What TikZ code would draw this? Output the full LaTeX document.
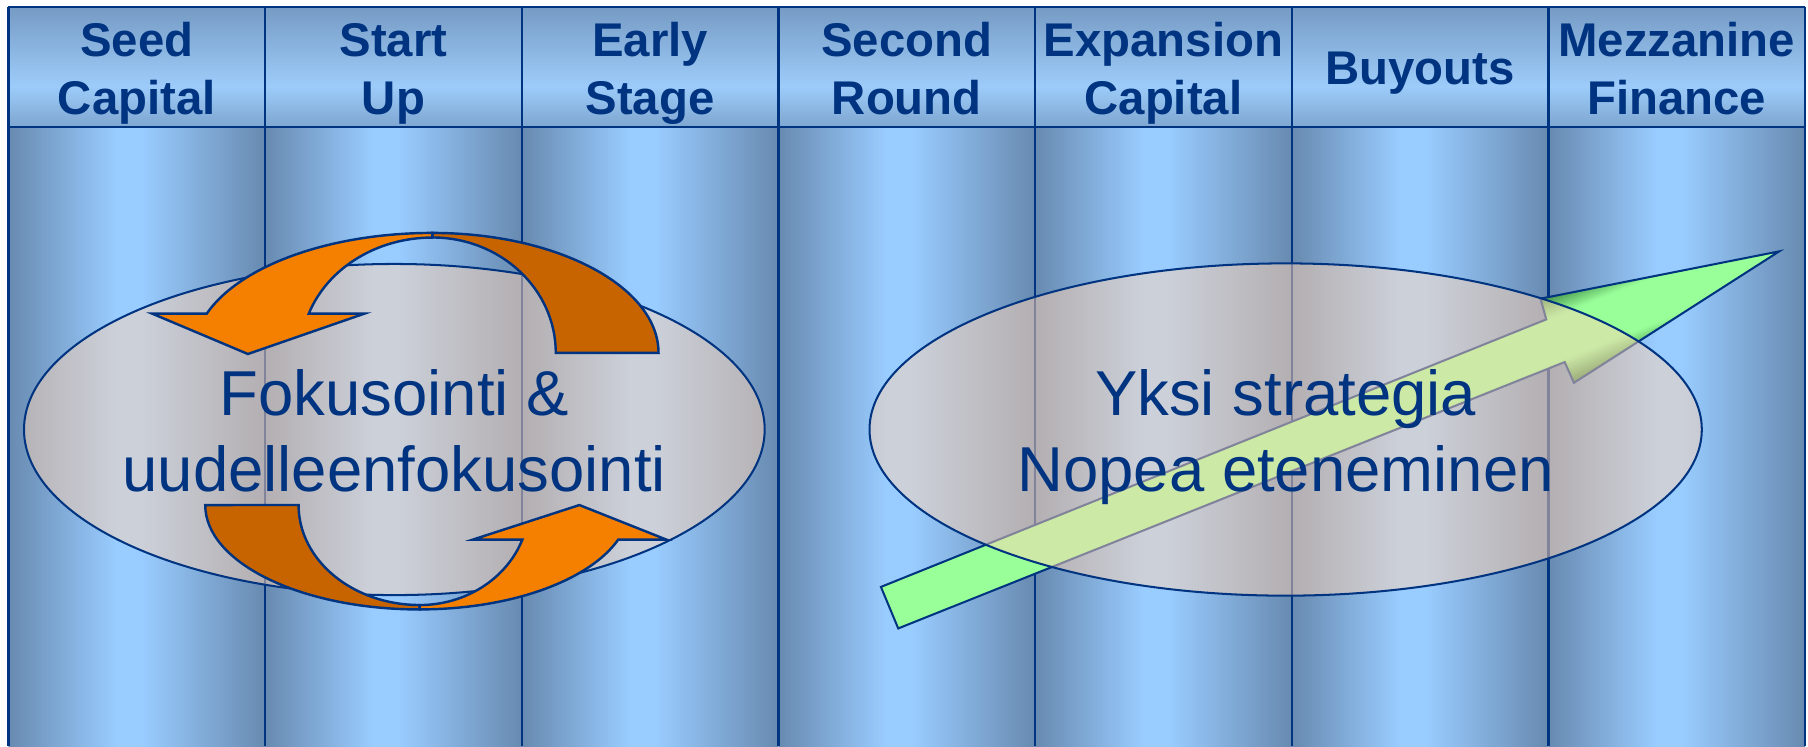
\documentclass[tikz,border=0pt]{standalone}
\usepackage{fontspec}
\setmainfont{Liberation Sans}
\definecolor{navy}{RGB}{0,51,128}
\definecolor{coldark}{RGB}{104,138,176}
\definecolor{collight}{RGB}{153,204,255}
\definecolor{hdtop}{RGB}{118,155,196}
\definecolor{hdlight}{RGB}{157,204,250}
\definecolor{hdbot}{RGB}{126,166,208}
\definecolor{orbright}{RGB}{245,128,0}
\definecolor{ordark}{RGB}{200,100,0}
\definecolor{arrgreen}{RGB}{153,255,153}
\definecolor{darkgr}{RGB}{55,128,62}
\definecolor{ellfill}{RGB}{255,212,180}
\pgfdeclarehorizontalshading{colshade}{100bp}{color(0bp)=(coldark); color(25bp)=(coldark); color(46bp)=(collight); color(51bp)=(collight); color(75bp)=(coldark); color(100bp)=(coldark)}
\pgfdeclareverticalshading{hdrshade}{100bp}{color(0bp)=(hdbot); color(25bp)=(hdbot); color(42bp)=(hdlight); color(75bp)=(hdtop); color(100bp)=(hdtop)}
\begin{document}
\begin{tikzpicture}[x=0.01cm, y=0.01cm,
  hdrtext/.style={font=\fontsize{11.67pt}{14pt}\selectfont\bfseries, text=navy, anchor=base, inner sep=0pt},
  bodytext/.style={font=\fontsize{15.65pt}{18.8pt}\selectfont, text=navy, anchor=base, inner sep=0pt},
  gridline/.style={draw=navy, line width=0.55pt},
  bubble/.style={draw=navy, line width=0.5pt, fill=ellfill, fill opacity=0.5},
  ring/.style={draw=navy, line width=0.6pt, line join=miter},
  bigarrow/.style={draw=navy, line width=0.5pt, line join=miter}
]
\useasboundingbox (0,0) rectangle (1568,647);
\fill[white] (0,0) rectangle (1568,647);
% columns
\foreach \i in {0,...,6}{
  \pgfmathsetmacro{\xl}{7.3+222.6*\i}
  \pgfmathsetmacro{\xr}{7.3+222.6*(\i+1)}
  \shade[shading=colshade] (\xl,0) rectangle (\xr,537);
}
% header
\shade[shading=hdrshade] (7.3,537) rectangle (1565.5,641);
\draw[gridline] (7.3,641) -- (1565.5,641);
\draw[gridline] (7.3,537) -- (1565.5,537);
\foreach \i in {0,...,7}{
  \draw[gridline] ({7.3+222.6*\i},0) -- ({7.3+222.6*\i},641);
}
% header texts
\node[hdrtext] (h1a) at (118.6,597.8) {Seed};
\node[hdrtext] (h1b) at (118.6,547.3) {Capital};
\node[hdrtext] (h2a) at (341.2,597.8) {Start};
\node[hdrtext] (h2b) at (341.2,547.3) {Up};
\node[hdrtext] (h3a) at (563.8,597.8) {Early};
\node[hdrtext] (h3b) at (563.8,547.3) {Stage};
\node[hdrtext] (h4a) at (786.4,597.8) {Second};
\node[hdrtext] (h4b) at (786.4,547.3) {Round};
\node[hdrtext] (h5a) at (1009,597.8) {Expansion};
\node[hdrtext] (h5b) at (1009,547.3) {Capital};
\node[hdrtext] (h6) at (1231.6,574) {Buyouts};
\node[hdrtext] (h7a) at (1454.2,597.8) {Mezzanine};
\node[hdrtext] (h7b) at (1454.2,547.3) {Finance};
% left ellipse
\draw[bubble] (342,274.5) ellipse [x radius=3.21cm, y radius=1.435cm];
% top circular arrow
\draw[ring, fill=ordark] (375,445) arc[start angle=90, end angle=0, x radius=1.96cm, y radius=1.04cm]
  -- (482,341) arc[start angle=0, end angle=90, x radius=1.07cm, y radius=1cm] -- cycle;
\draw[ring, fill=orbright] (375,445) arc[start angle=90, end angle=160.9, x radius=2.07cm, y radius=1.04cm]
  -- (132,375) -- (215,340) -- (316,375) -- (267.8,375)
  arc[start angle=160.1, end angle=90, x radius=1.14cm, y radius=1cm] -- cycle;
% bottom circular arrow
\draw[ring, fill=ordark] (178,209) arc[start angle=180, end angle=270, x radius=1.86cm, y radius=0.905cm]
  -- (364,122.3) arc[start angle=270, end angle=180, x radius=1.05cm, y radius=0.867cm] -- cycle;
\draw[ring, fill=orbright] (364,118.5) arc[start angle=270, end angle=340.64, x radius=1.824cm, y radius=0.905cm]
  -- (578,179) -- (502.5,209) -- (410,179) -- (453,179)
  arc[start angle=339.76, end angle=270, x radius=0.949cm, y radius=0.867cm] -- cycle;
% green arrow: fill, edge shading, outline
\fill[arrgreen] (764,138) -- (1341,370) -- (1336,388) -- (1543,429) -- (1365,315) -- (1357,333) -- (779,102) -- cycle;
\begin{scope}
  \clip (764,138) -- (1341,370) -- (1336,388) -- (1543,429) -- (1365,315) -- (1357,333) -- (779,102) -- cycle;
  \foreach \o in {20,22,...,42}{
    \pgfmathsetmacro{\pct}{min(100,(\o-19)/22*100)}
    \foreach \s in {1,-1}{
      \draw[draw=darkgr!\pct!arrgreen, line width=0.024cm]
        ({771.5-0.373*\s*\o-0.928*30},{120+0.928*\s*\o-0.373*30}) --
        ({771.5-0.373*\s*\o+0.928*900},{120+0.928*\s*\o+0.373*900});
    }
  }
\end{scope}
\draw[bigarrow] (764,138) -- (1341,370) -- (1336,388) -- (1543,429) -- (1365,315) -- (1357,333) -- (779,102) -- cycle;
% right ellipse
\draw[bubble] (1115,274.5) ellipse [x radius=3.607cm, y radius=1.44cm];
% body texts
\node[bodytext] (t1a) at (342,286.5) {Fokusointi \&};
\node[bodytext] (t1b) at (342,220.5) {uudelleenfokusointi};
\node[bodytext] (t2a) at (1115,286.5) {Yksi strategia};
\node[bodytext] (t2b) at (1115,220.5) {Nopea eteneminen};
\end{tikzpicture}
\end{document}
